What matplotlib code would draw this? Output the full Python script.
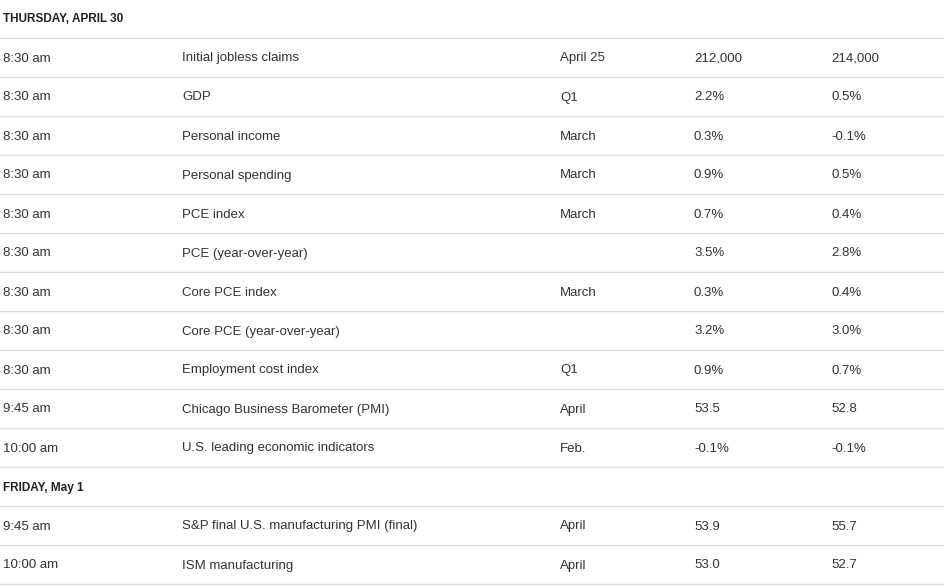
import matplotlib
matplotlib.use("Agg")
import matplotlib.pyplot as plt

sections = ["THURSDAY, APRIL 30", "FRIDAY, May 1"]
times = [["8:30 am"]*9 + ["9:45 am", "10:00 am"], ["9:45 am", "10:00 am"]]
reports = [["Initial jobless claims", "GDP", "Personal income", "Personal spending", "PCE index",
            "PCE (year-over-year)", "Core PCE index", "Core PCE (year-over-year)", "Employment cost index",
            "Chicago Business Barometer (PMI)", "U.S. leading economic indicators"],
           ["S&P final U.S. manufacturing PMI (final)", "ISM manufacturing"]]
periods = [["April 25", "Q1", "March", "March", "March", "", "March", "", "Q1", "April", "Feb."],
           ["April", "April"]]
forecasts = [["212,000", "2.2%", "0.3%", "0.9%", "0.7%", "3.5%", "0.3%", "3.2%", "0.9%", "53.5", "-0.1%"],
             ["53.9", "53.0"]]
previous = [["214,000", "0.5%", "-0.1%", "0.5%", "0.4%", "2.8%", "0.4%", "3.0%", "0.7%", "52.8", "-0.1%"],
            ["55.7", "52.7"]]

W, H = 944, 587
fig = plt.figure(figsize=(W/100, H/100), dpi=100)
ax = fig.add_axes([0, 0, 1, 1])
ax.set_xlim(0, W); ax.set_ylim(H, 0); ax.axis("off")
fam = ["Liberation Sans", "DejaVu Sans"]
colx = [3, 182, 560, 694, 831]
rowh = 39
y = 18
txtc = "#333333"
for s in range(len(sections)):
    ax.text(colx[0], y, sections[s], fontsize=8.5, fontweight="bold", family=fam,
            va="center_baseline", color="#222222")
    ax.plot([0, W], [y + rowh/2, y + rowh/2], color="#dddddd", lw=1)
    y += rowh
    for i in range(len(times[s])):
        vals = [times[s][i], reports[s][i], periods[s][i], forecasts[s][i], previous[s][i]]
        for x, v in zip(colx, vals):
            ax.text(x, y, v, fontsize=9.5, family=fam, va="center_baseline", color=txtc)
        ax.plot([0, W], [y + rowh/2, y + rowh/2], color="#dddddd", lw=1)
        y += rowh
fig.savefig("out.png", dpi=100, facecolor="white")
